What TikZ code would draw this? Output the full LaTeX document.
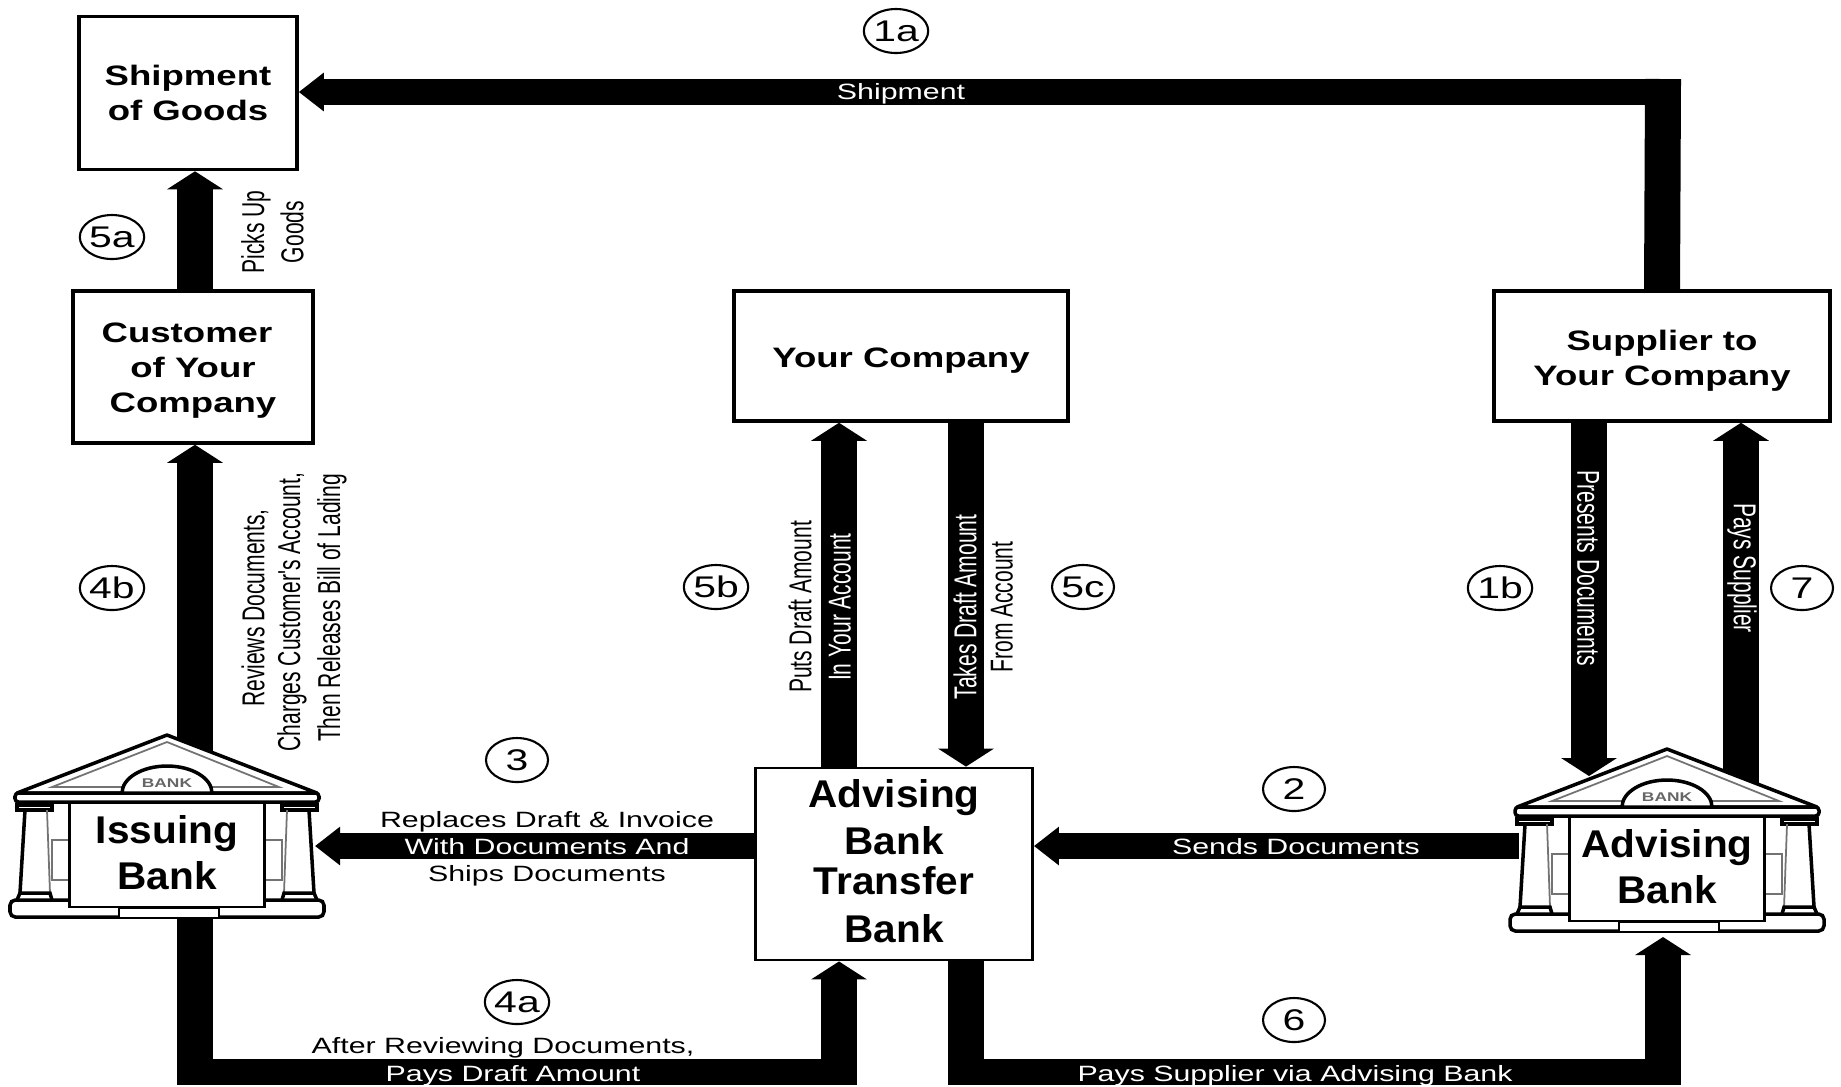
\documentclass[tikz,border=0pt]{standalone}
\usepackage{fontspec}
\usepackage{tikz}
\usetikzlibrary{arrows.meta,positioning,calc,shapes.geometric,backgrounds}
\setmainfont{Liberation Sans}
\newfontfamily\flatfont{Liberation Sans}[FakeStretch=1.37]
\newfontfamily\sidefont{Liberation Sans}[FakeStretch=0.665]
\newfontfamily\titlefont{Liberation Sans}[FakeStretch=1.3]
\newfontfamily\bankfont{Liberation Sans}[FakeStretch=1.05]
\newcommand{\lowline}[1]{\rule{0pt}{#1}}
\newcommand{\highline}{\rule[-1.4pt]{0pt}{1pt}}

\begin{document}
\begin{tikzpicture}[x=0.1mm,y=-0.1mm,
    titlebox/.style={rectangle,draw,line width=1pt,fill=white,align=center,inner sep=0pt,
        font=\titlefont\bfseries\fontsize{8}{10}\selectfont},
    bankbox/.style={rectangle,draw,line width=0.8pt,fill=white,align=center,inner sep=0pt,
        font=\bankfont\bfseries\fontsize{11}{13.3}\selectfont},
    tagmark/.style={ellipse,draw,line width=0.6pt,inner sep=0pt,minimum width=6.2mm,minimum height=4.4mm,
        font=\flatfont\fontsize{8.5}{10}\selectfont},
    flatlabel/.style={inner sep=0pt,yshift=-0.3mm,font=\flatfont\fontsize{6.3}{7.7}\selectfont},
    sidelabel/.style={inner sep=0pt,rotate=90,font=\sidefont\fontsize{9}{10}\selectfont},
    onbar/.style={text=white},
    upbar/.style={line width=3.6mm,-{Triangle[length=1.8mm,width=5.5mm]}},
    leftbar/.style={line width=2.6mm,-{Triangle[length=2.5mm,width=3.7mm]}},
    vstem/.style={line width=3.6mm},
    hstem/.style={line width=2.6mm},
    bankline/.style={line width=1pt,black},
    bankthin/.style={line width=0.5pt,black!55},
    pics/bankhouse/.style={code={
        \fill[white] (-148,60) rectangle (148,170);
        \draw[bankline,fill=white,line join=round] (-150,58) -- (0,0) -- (150,58) -- cycle;
        \draw[bankthin] (-45,52) -- (-115,52) -- (0,7) -- (112,52) -- (44,52);
        \draw[bankline,fill=white] (-45,58) arc[start angle=180,end angle=360,x radius=45,y radius=27];
        \node[inner sep=0pt,text=black!60,font=\flatfont\bfseries\fontsize{3.6}{4}\selectfont] (-seal) at (0,48) {BANK};
        \draw[bankline,fill=white,rounded corners=1pt] (-152,58) rectangle (152,67);
        \draw[bankline] (-150,70) rectangle (-115,75);
        \draw[bankline] (115,70) rectangle (150,75);
        \draw[bankline] (-142,75) -- (-147,158);
        \draw[bankline] (142,75) -- (147,158);
        \draw[bankthin] (-120,75) -- (-117,158);
        \draw[bankthin] (120,75) -- (117,158);
        \draw[bankthin] (-98,105) -- (-115,105) -- (-115,145) -- (-98,145);
        \draw[bankthin] (98,105) -- (115,105) -- (115,145) -- (98,145);
        \draw[bankline] (-150,165) -- (-147,158) -- (-117,158) -- (-115,165);
        \draw[bankline] (150,165) -- (147,158) -- (117,158) -- (115,165);
        \draw[bankline,fill=white,rounded corners=1.5pt] (-157,165) rectangle (157,182);
        \draw[line width=0.7pt,fill=white] (-48,173) rectangle (52,183);
        \node[bankbox,minimum width=19.5mm,minimum height=10.4mm] (-label) at (0,120) {#1};
        \coordinate (-foot) at (0,183);
        \coordinate (-right) at (148,100);
    }}
]
\useasboundingbox (0,0) rectangle (1841,1086);

\node[titlebox,minimum width=21.8mm,minimum height=15.3mm] (shipment) at (188,93) {Shipment\\of Goods};
\node[titlebox,minimum width=24mm,minimum height=15.2mm] (customer) at (193,367)
    {\lowline{7.6pt}Customer\hspace*{1.2mm}\\of Your\hspace*{1.2mm}\\Company};
\node[titlebox,minimum width=33.4mm,minimum height=13mm] (yourco) at (901,356) {\lowline{8pt}Your Company};
\node[titlebox,minimum width=33.6mm,minimum height=13mm] (supplier) at (1662,356) {\lowline{8.6pt}Supplier to\\Your Company};
\node[bankbox,minimum width=27.7mm,minimum height=19.2mm] (transfer) at (894,864)
    {Advising\\[0.1pt]Bank\\[-1.9pt]Transfer\\[0.4pt]Bank\rule[-1.6pt]{0pt}{1pt}};

\pic (issuing) at (167,735) {bankhouse={Issuing\\Bank\highline}};
\pic (advising) at (1667,749) {bankhouse={Advising\\Bank\highline}};

\coordinate (c1a) at (1663,92);
\coordinate (c1b) at (1589,776);
\coordinate (c7) at (1741,800);
\coordinate (c2) at (1530,846);
\coordinate (c4a) at (195,1072);
\coordinate (c4b) at (839,1072);
\coordinate (c6a) at (966,1072);
\coordinate (c6b) at (1663,1072);

\begin{scope}[on background layer]
\path[upbar]
    (c4a |- customer.north) edge (c4a |- shipment.south)
    (c4a |- issuing-label.north) edge (c4a |- customer.south)
    (c4b |- transfer.north) edge (c4b |- yourco.south)
    (c7) edge (c7 |- supplier.south)
    ([yshift=-1.3mm]c4b) edge (c4b |- transfer.south)
    ([yshift=-1.3mm]c6b) edge[shorten >=0.5mm] (c6b |- advising-foot)
    (c6a |- yourco.south) edge (c6a |- transfer.north)
    (c1b |- supplier.south) edge (c1b);
\path[leftbar]
    (c1a) edge (c1a -| shipment.east)
    (c2) edge (c2 -| transfer.east)
    (c2 -| transfer.west) edge (c2 -| issuing-right);
\path[vstem]
    (supplier.north) edge ([yshift=1.3mm]c1a)
    (c4a |- issuing-foot) edge ([yshift=-1.3mm]c4a)
    (c6a |- transfer.south) edge ([yshift=-1.3mm]c6a);
\path[hstem]
    (c4a) edge (c4b)
    (c6a) edge (c6b);
\end{scope}

\node[tagmark] (tag1a) at (896,31) {1a};
\node[tagmark] (tag5a) at (112,237) {5a};
\node[tagmark] (tag4b) at (112,588) {4b};
\node[tagmark] (tag5b) at (716,587) {5b};
\node[tagmark] (tag5c) at (1083,587) {5c};
\node[tagmark] (tag1b) at (1500,588) {1b};
\node[tagmark] (tag7) at (1802,588) {7};
\node[tagmark] (tag3) at (517,760) {3};
\node[tagmark] (tag2) at (1294,789) {2};
\node[tagmark] (tag4a) at (517,1002) {4a};
\node[tagmark] (tag6) at (1294,1020) {6};

\node[flatlabel,onbar] (shipmenttext) at (901,91) {Shipment};
\node[flatlabel] (replaces) at (547,819) {Replaces Draft \& Invoice};
\node[flatlabel,onbar] (withdocs) at (547,844) {With Documents And};
\node[flatlabel] (shipsdocs) at (547,873) {Ships Documents};
\node[flatlabel,onbar] (sends) at (1296,844) {Sends Documents};
\node[flatlabel] (reviewing) at (503,1045) {After Reviewing Documents,};
\node[flatlabel,onbar] (paysdraft) at (513,1073) {Pays Draft Amount};
\node[flatlabel,onbar] (paysvia) at (1295,1073) {Pays Supplier via Advising Bank};

\node[sidelabel] (picks) at (256,232) {Picks Up};
\node[sidelabel] (goods) at (292,232) {Goods};
\node[sidelabel] (reviews) at (255,608) {Reviews Documents,};
\node[sidelabel] (charges) at (292,612) {Charges Customer's Account,};
\node[sidelabel] (releases) at (332,608) {Then Releases Bill of Lading};
\node[sidelabel] (puts) at (800,607) {Puts Draft Amount};
\node[sidelabel,onbar] (inyour) at (840,607) {In Your Account};
\node[sidelabel,onbar] (takes) at (965,607) {Takes Draft Amount};
\node[sidelabel] (fromacct) at (1002,607) {From Account};
\node[sidelabel,onbar,rotate=180] (presents) at (1588,568) {Presents Documents};
\node[sidelabel,onbar,rotate=180] (payssup) at (1742,568) {Pays Supplier};
\end{tikzpicture}
\end{document}
